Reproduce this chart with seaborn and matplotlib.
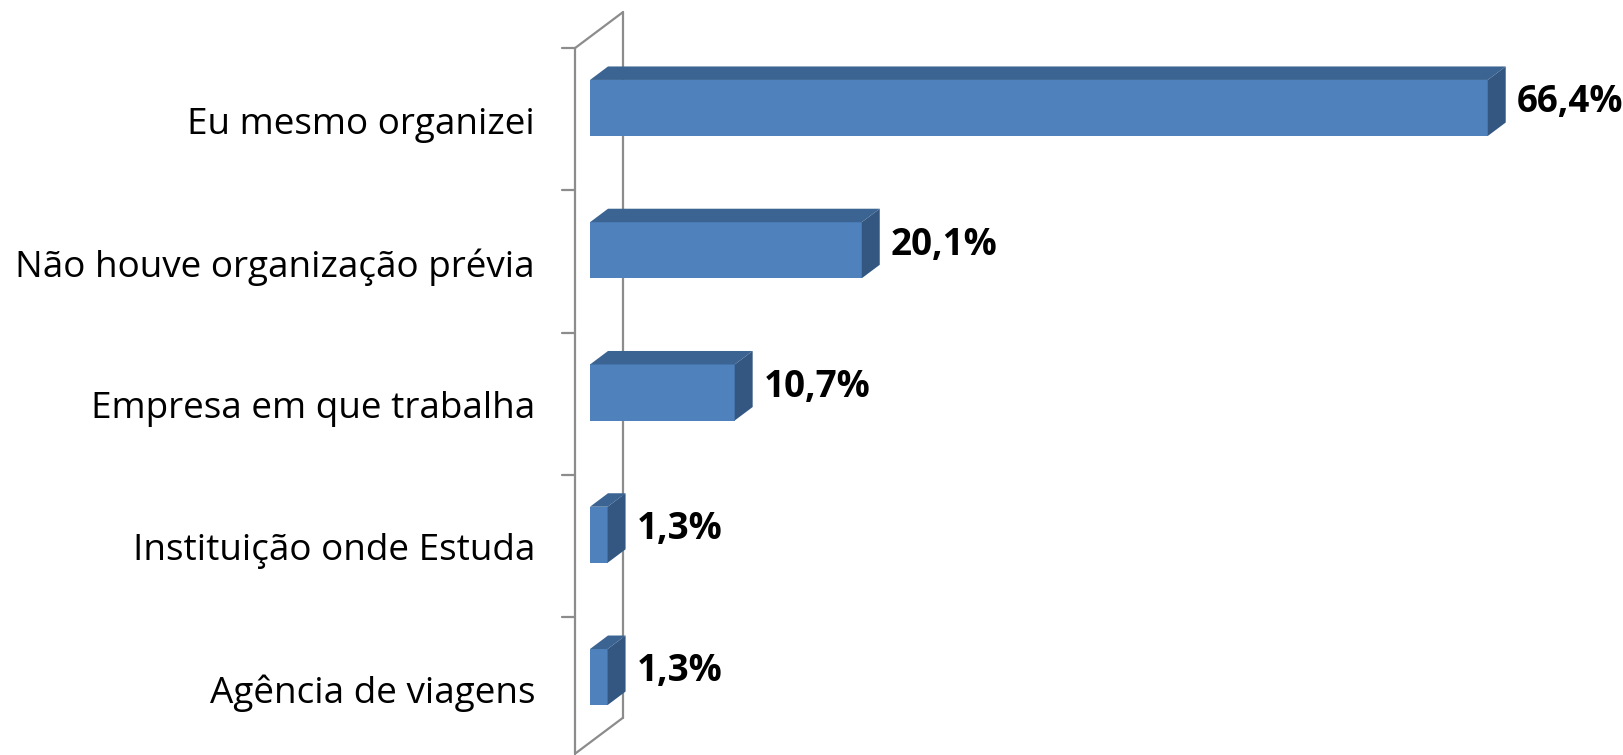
import matplotlib.pyplot as plt
import seaborn as sns
import numpy as np
import pandas as pd
from matplotlib.patches import Polygon
from matplotlib.lines import Line2D

categories = ['Eu mesmo organizei', 'Não houve organização prévia',
              'Empresa em que trabalha', 'Instituição onde Estuda',
              'Agência de viagens']
values = [66.4, 20.1, 10.7, 1.3, 1.3]
value_labels = ['66,4%', '20,1%', '10,7%', '1,3%', '1,3%']

FRONT = '#4F81BD'
TOP = '#3C6492'
SIDE = '#345782'
WALL = '#8C8C8C'

W, H = 1623, 755
DEPTH = 18          # bar depth in pixels (x); y goes up 3/4 of that
FONT = ['Open Sans', 'DejaVu Sans']

sns.set_style('white')
plt.rcParams['font.family'] = FONT

fig = plt.figure(figsize=(W / 100, H / 100), dpi=100)
ax = fig.add_axes([590 / W, 0, 1033 / W, 1])

df = pd.DataFrame({'cat': categories, 'val': values})
sns.barplot(data=df, x='val', y='cat', orient='h', color=FRONT,
            saturation=1, width=0.394, edgecolor='none', ax=ax, zorder=2)

ax.set_xlim(0, 1033 / 13.52)
ax.set_ylim(4.548, -0.759)
for s in ax.spines.values():
    s.set_visible(False)
ax.set_xticks([])
ax.set_xlabel('')
ax.set_ylabel('')
ax.set_yticks(np.arange(len(categories)) + 0.085, labels=categories)
ax.tick_params(axis='y', length=0, pad=39.6, labelsize=26.6, labelcolor='black')

to_fig = fig.transFigure.inverted()


def disp(x, y, d=0.0):
    px, py = ax.transData.transform((x, y))
    return px + d, py + d * 0.75


def add_poly(pts, color, z):
    poly = Polygon(to_fig.transform(np.array(pts)), closed=True,
                   facecolor=color, edgecolor='none', transform=fig.transFigure, zorder=z)
    fig.add_artist(poly)


def add_line(pts, z=0.5):
    p = to_fig.transform(np.array(pts))
    fig.add_artist(Line2D(p[:, 0], p[:, 1], color=WALL, lw=1.6,
                          transform=fig.transFigure, zorder=z))


# wall / floor outline (behind the bars)
y_top, y_bot = -0.5, 4.46
front_d, back_d = -15, 33
add_line([disp(0, y_top, front_d), disp(0, y_bot, front_d)])
add_line([disp(0, y_top, back_d), disp(0, y_bot, back_d)])
add_line([disp(0, y_top, front_d), disp(0, y_top, back_d)])
add_line([disp(0, y_bot, front_d), disp(0, y_bot, back_d)])
for b in np.arange(len(categories)) - 0.5:
    x1, y1 = disp(0, b, front_d)
    add_line([(x1 - 13, y1), (x1, y1)])

# bring bars above the wall lines
ax.set_zorder(1)
ax.patch.set_visible(False)

# top and side faces of each bar
for bar in ax.patches:
    x0, y0 = bar.get_x(), bar.get_y()
    x1, y1 = x0 + bar.get_width(), y0 + bar.get_height()
    lt, rt, rb = disp(x0, y0), disp(x1, y0), disp(x1, y1)
    off = np.array([DEPTH, DEPTH * 0.75])
    add_poly([lt, rt, np.add(rt, off), np.add(lt, off)], TOP, 3)
    add_poly([rt, rb, np.add(rb, off), np.add(rt, off)], SIDE, 3)

# value labels
for i, (v, lab) in enumerate(zip(values, value_labels)):
    ax.annotate(lab, xy=(v, i), xytext=(21, 4), textcoords='offset points',
                ha='left', va='center', fontsize=26.5, fontweight='bold',
                color='black', annotation_clip=False)

fig.savefig('out.png', dpi=100)
